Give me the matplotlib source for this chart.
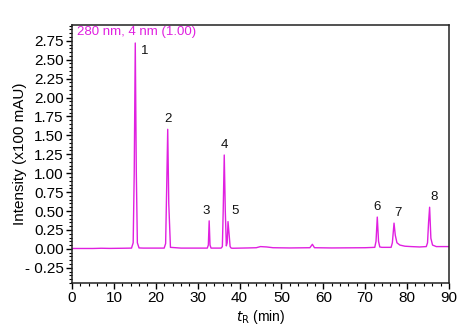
import numpy as np
import matplotlib.pyplot as plt
from matplotlib.ticker import MultipleLocator, FuncFormatter

plt.rcParams["font.family"] = ["Liberation Sans", "DejaVu Sans"]

# chromatogram trace (time in min, intensity in x100 mAU)
t_min = [0, 5, 7, 9, 12, 14.2, 14.6, 14.85, 15.1, 15.35, 15.6, 16.0, 17, 20,
         22.0, 22.35, 22.6, 22.85, 23.1, 23.5, 26, 30,
         32.3, 32.55, 32.75, 32.95, 33.2, 35.6,
         35.9, 36.1, 36.35, 36.6, 36.85, 37.05, 37.25, 37.5, 37.75, 38.0, 38.4,
         42, 44, 45, 46.5, 48, 52, 56.8, 57.4, 57.9, 62, 70,
         72.3, 72.6, 72.9, 73.2, 73.5, 74,
         76.2, 76.5, 76.9, 77.2, 77.6, 78.3, 79.5, 81, 83, 84.6,
         84.9, 85.15, 85.4, 85.7, 86.1, 87, 90]
intensity = [0.005, 0.005, 0.008, 0.006, 0.008, 0.01, 0.08, 1.0, 2.72, 1.0, 0.08, 0.012, 0.01, 0.01,
             0.01, 0.07, 0.8, 1.58, 0.6, 0.02, 0.01, 0.01,
             0.01, 0.05, 0.37, 0.05, 0.01, 0.01,
             0.03, 0.5, 1.24, 0.5, 0.04, 0.08, 0.36, 0.2, 0.03, 0.01, 0.008,
             0.012, 0.015, 0.03, 0.025, 0.015, 0.012, 0.015, 0.06, 0.015, 0.012, 0.015,
             0.02, 0.1, 0.42, 0.1, 0.025, 0.02,
             0.02, 0.08, 0.34, 0.18, 0.08, 0.05, 0.035, 0.03, 0.025, 0.03,
             0.08, 0.35, 0.55, 0.14, 0.05, 0.03, 0.03]

peak_labels = ["1", "2", "3", "4", "5", "6", "7", "8"]
peak_t = [15.1, 22.85, 32.75, 36.35, 37.25, 72.9, 76.9, 85.4]
peak_h = [2.72, 1.58, 0.37, 1.24, 0.36, 0.42, 0.34, 0.55]
label_dx = [7, 0, -2, 0, 5, 0, 3, 3]   # offset points
label_dy = [-10, 3, 3, 3, 3, 3, 3, 3]

MAGENTA = "#e020e0"

fig = plt.figure(figsize=(4.74, 3.36), dpi=100)
ax = fig.add_axes([0.152, 0.158, 0.795, 0.768])

ax.plot(t_min, intensity, color=MAGENTA, lw=1.0)

for lab, x, h, dx, dy in zip(peak_labels, peak_t, peak_h, label_dx, label_dy):
    ax.annotate(lab, xy=(x, h), xytext=(dx, dy), textcoords="offset points",
                ha="center", va="bottom", fontsize=9.5, color="#111111")

ax.text(0.012, 0.995, "280 nm, 4 nm (1.00)", transform=ax.transAxes,
        ha="left", va="top", fontsize=9.5, color=MAGENTA)

ax.set_xlim(0, 90)
ax.set_ylim(-0.45, 2.96)
ax.xaxis.set_major_locator(MultipleLocator(10))
ax.xaxis.set_minor_locator(MultipleLocator(2))
ax.yaxis.set_major_locator(MultipleLocator(0.25))
ax.yaxis.set_minor_locator(MultipleLocator(0.05))
ax.yaxis.set_major_formatter(FuncFormatter(
    lambda v, p: f"- {abs(v):.2f}" if v < -1e-9 else f"{abs(v):.2f}"))

ax.tick_params(which="major", direction="out", length=4, width=1, labelsize=11, pad=2)
ax.tick_params(which="minor", direction="out", length=2, width=0.8)
for s in ax.spines.values():
    s.set_linewidth(1.1)
    s.set_color("#222222")

ax.set_xlabel(r"$t_\mathrm{R}$ (min)", fontsize=10, labelpad=2)
ax.set_ylabel("Intensity (x100 mAU)", fontsize=11)
ax.yaxis.set_label_coords(-0.12, 0.5)

fig.savefig("out.png", dpi=100)
